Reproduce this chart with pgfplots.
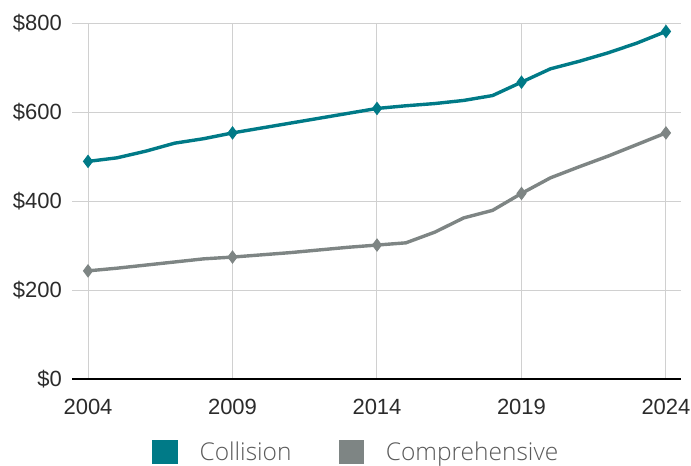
\documentclass[border=0pt]{standalone}
\usepackage{fontspec}
\setmainfont{Liberation Sans}
\IfFontExistsTF{Open Sans Light}
  {\newfontfamily\legendfont{Open Sans Light}}
  {\newfontfamily\legendfont{Open Sans}}
\usepackage{pgfplots}
\pgfplotsset{compat=1.18}

\definecolor{collision}{HTML}{007A87}
\definecolor{comprehensive}{HTML}{7E8584}
\definecolor{gridgray}{HTML}{D0D0D0}
\definecolor{ticktext}{HTML}{2B2B2B}
\definecolor{legendtext}{HTML}{5A5A5A}

% Average annual premium by coverage type
\pgfplotstableread{
year collision comprehensive
2004 489 243
2005 497 249
2006 512 256
2007 530 263
2008 540 270
2009 553 274
2010 564 279
2011 575 284
2012 586 290
2013 597 296
2014 608 301
2015 614 306
2016 619 330
2017 626 362
2018 637 379
2019 667 417
2020 697 452
2021 714 477
2022 733 501
2023 755 527
2024 781 553
}\premiums

\begin{document}
\begin{tikzpicture}
\path[use as bounding box] (0,0) rectangle (691bp,466bp);
\begin{axis}[
  at={(72bp,87bp)}, anchor=south west,
  scale only axis, width=609bp, height=356bp,
  xmin=2003.446, xmax=2024.52,
  ymin=0, ymax=800,
  clip=false,
  axis x line*=bottom, axis y line*=left,
  x axis line style={black, line width=1.4bp},
  y axis line style={draw=none},
  major tick length=0pt,
  xtick={2004,2009,2014,2019,2024},
  xticklabels={2004,2009,2014,2019,2024},
  ytick={0,200,400,600,800},
  yticklabels={\$0,\$200,\$400,\$600,\$800},
  xmajorgrids, ymajorgrids,
  major grid style={gridgray, line width=1bp},
  every tick label/.append style={inner sep=0pt, text=ticktext,
    font=\fontsize{22bp}{26bp}\selectfont},
  yticklabel style={xshift=-10bp},
  xticklabel style={yshift=-20bp},
  legend columns=2,
  legend style={at={(0.465,-0.205)}, anchor=center, draw=none,
    font=\legendfont\fontsize{24.5bp}{28bp}\selectfont,
    text=legendtext,
    nodes={inner sep=0pt},
    /tikz/every odd column/.append style={column sep=22bp},
    /tikz/every even column/.append style={column sep=47bp}},
  legend image code/.code={\fill[#1] (0bp,-10.5bp) rectangle (22bp,10.5bp);},
]
\addplot[collision, line width=3.4bp, mark=diamond*, mark size=6bp,
  mark repeat=5, mark options={line width=1bp, solid}]
  table[x=year, y=collision] {\premiums};
\addlegendentry{Collision}
\addplot[comprehensive, line width=3.4bp, mark=diamond*, mark size=6bp,
  mark repeat=5, mark options={line width=1bp, solid}]
  table[x=year, y=comprehensive] {\premiums};
\addlegendentry{Comprehensive}
\end{axis}
\end{tikzpicture}
\end{document}
